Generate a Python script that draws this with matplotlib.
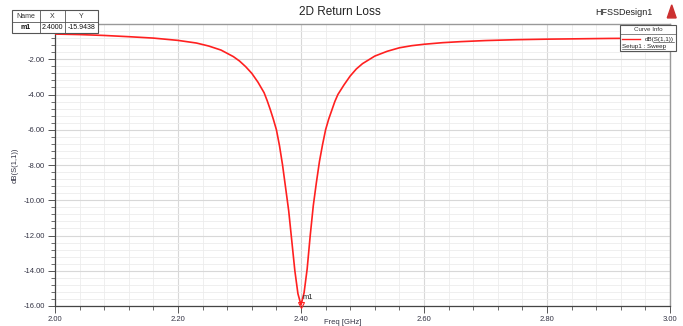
import numpy as np
import matplotlib
matplotlib.use("Agg")
import matplotlib.pyplot as plt
from matplotlib.ticker import MultipleLocator
from matplotlib.patches import Rectangle

plt.rcParams['font.family'] = ['Liberation Sans', 'DejaVu Sans']

# значения кривой dB(S(1,1))
freq = [2.00, 2.04, 2.08, 2.12, 2.16, 2.20, 2.23, 2.25, 2.27, 2.29, 2.30, 2.31,
        2.32, 2.33, 2.34, 2.345, 2.35, 2.355, 2.36, 2.365, 2.37, 2.375, 2.38,
        2.385, 2.39, 2.395, 2.40, 2.405, 2.41, 2.415, 2.42, 2.425, 2.43, 2.435,
        2.44, 2.445, 2.45, 2.455, 2.46, 2.47, 2.48, 2.49, 2.50, 2.52, 2.54, 2.56,
        2.58, 2.60, 2.63, 2.66, 2.70, 2.75, 2.80, 2.90, 3.00]
s11_db = [-0.57, -0.60, -0.65, -0.72, -0.80, -0.93, -1.08, -1.25, -1.48, -1.85, -2.10, -2.42,
          -2.80, -3.30, -3.90, -4.35, -4.85, -5.40, -6.00, -6.90, -8.00, -9.30, -10.60,
          -12.30, -14.00, -15.30, -15.94, -15.25, -13.90, -12.00, -10.30, -9.00, -7.80, -6.85,
          -6.00, -5.40, -4.90, -4.40, -4.00, -3.45, -2.95, -2.55, -2.25, -1.82, -1.55, -1.35,
          -1.23, -1.15, -1.06, -1.00, -0.94, -0.89, -0.86, -0.82, -0.80]

marker_name = "m1"
marker_x = 2.4000
marker_y = -15.9438

x_ticks = [2.00, 2.20, 2.40, 2.60, 2.80, 3.00]
y_ticks = [-2.0, -4.0, -6.0, -8.0, -10.0, -12.0, -14.0, -16.0]

fig = plt.figure(figsize=(6.83, 3.26), dpi=100)
ax = fig.add_axes([55 / 683, 20 / 326, 615 / 683, 282 / 326])

ax.plot(freq, s11_db, color='#ff2020', lw=1.2, zorder=3, solid_joinstyle='round')

# маркер m1
ax.plot([marker_x], [marker_y], marker='v', ms=4, mfc='none', mec='#ff2020', mew=0.8,
        zorder=4, clip_on=False)
ax.text(marker_x + 0.002, marker_y + 0.35, marker_name, fontsize=5.5, color='#222222', zorder=5)

ax.set_xlim(2.0, 3.0)
ax.set_ylim(-16.0, 0.0)
ax.set_xticks(x_ticks)
ax.set_xticklabels([f"{v:.2f}" for v in x_ticks])
ax.set_yticks(y_ticks)
ax.set_yticklabels([f"{v:.2f}" for v in y_ticks])
ax.xaxis.set_minor_locator(MultipleLocator(0.04))
ax.yaxis.set_minor_locator(MultipleLocator(0.4))

ax.grid(which='major', color='#d8d8d8', lw=0.8)
ax.grid(which='minor', color='#ececec', lw=0.6)
ax.set_axisbelow(True)

ax.tick_params(which='major', direction='out', length=5, width=0.7, color='#555555',
               labelsize=5.5, labelcolor='#333344', pad=2)
ax.tick_params(which='minor', direction='out', length=3, width=0.6, color='#555555')
for side in ['left', 'bottom']:
    ax.spines[side].set_color('#444444')
    ax.spines[side].set_linewidth(0.9)
for side in ['top', 'right']:
    ax.spines[side].set_color('#999999')
    ax.spines[side].set_linewidth(1.0)

ax.set_xlabel("Freq [GHz]", fontsize=5.5, color='#333344', labelpad=3)
ax.xaxis.set_label_coords(0.467, -0.045)
ax.set_ylabel("dB(S(1,1))", fontsize=5.5, color='#333344', labelpad=4)

fig.text(0.498, 0.963, "2D Return Loss", ha='center', va='center', fontsize=8.5, color='#222222')
fig.text(0.955, 0.963, "HFSSDesign1", ha='right', va='center', fontsize=6.5, color='#222222')
fig.patches.append(plt.Polygon([[0.977, 0.945], [0.99, 0.945], [0.9835, 0.985]],
                               closed=True, transform=fig.transFigure,
                               color='#cc3030', figure=fig))

# таблица маркеров слева сверху
tab = fig.add_axes([12 / 683, 1 - 33 / 326, 86 / 683, 23 / 326])
tab.set_xlim(0, 86)
tab.set_ylim(0, 23)
tab.axis('off')
tab.add_patch(Rectangle((0, 0), 86, 23, fc='white', ec='#555555', lw=0.8, clip_on=False))
tab.plot([0, 86], [11.5, 11.5], color='#555555', lw=0.6)
for cx in [28, 53]:
    tab.plot([cx, cx], [0, 23], color='#555555', lw=0.6)
tab.text(14, 17, "Name", ha='center', va='center', fontsize=5, color='#333333')
tab.text(40.5, 17, "X", ha='center', va='center', fontsize=5, color='#333333')
tab.text(69.5, 17, "Y", ha='center', va='center', fontsize=5, color='#333333')
tab.text(14, 5.8, marker_name, ha='center', va='center', fontsize=5, color='#111111',
         fontweight='bold')
tab.text(40.5, 5.8, f"{marker_x:.4f}", ha='center', va='center', fontsize=5, color='#111111')
tab.text(69.5, 5.8, f"{marker_y:.4f}", ha='center', va='center', fontsize=5, color='#111111')

# блок Curve Info справа сверху
leg = fig.add_axes([620 / 683, 1 - 51 / 326, 56 / 683, 26 / 326])
leg.set_xlim(0, 56)
leg.set_ylim(0, 26)
leg.axis('off')
leg.add_patch(Rectangle((0, 0), 56, 26, fc='white', ec='#555555', lw=0.8, clip_on=False))
leg.plot([0, 56], [17, 17], color='#555555', lw=0.5)
leg.text(28, 21.5, "Curve Info", ha='center', va='center', fontsize=4.5, color='#333333')
leg.plot([2, 20], [12, 12], color='#ff2020', lw=1.0)
leg.text(54, 12, "dB(S(1,1))", ha='right', va='center', fontsize=4.5, color='#222222')
leg.plot([33, 54], [9.3, 9.3], color='#222222', lw=0.4)
leg.text(2, 4.5, "Setup1 : Sweep", ha='left', va='center', fontsize=4.5, color='#222222')
leg.plot([2, 45], [2.0, 2.0], color='#222222', lw=0.4)

fig.savefig("out.png", dpi=100)
